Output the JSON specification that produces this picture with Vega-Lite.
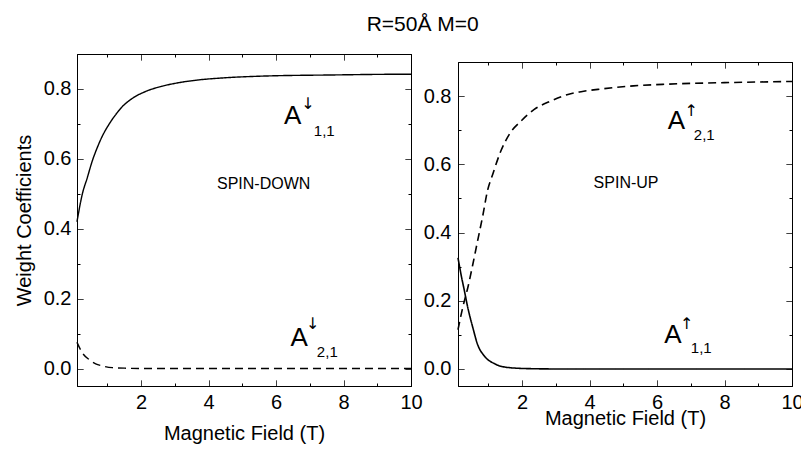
{
  "$schema": "https://vega.github.io/schema/vega-lite/v6.json",
  "padding": {"left": 13, "top": 13, "right": 0, "bottom": 0},
  "title": {"text": "R=50Å M=0", "fontSize": 21, "fontWeight": "normal", "font": "Liberation Sans", "anchor": "middle", "offset": 14, "dx": 14, "color": "black"},
  "datasets": {
    "curves": [
      {"panel": "L", "curve": "A11", "x": 0.1, "y": 0.42},
      {"panel": "L", "curve": "A11", "x": 0.257, "y": 0.499},
      {"panel": "L", "curve": "A11", "x": 0.405, "y": 0.546},
      {"panel": "L", "curve": "A11", "x": 0.553, "y": 0.594},
      {"panel": "L", "curve": "A11", "x": 0.7, "y": 0.632},
      {"panel": "L", "curve": "A11", "x": 0.85, "y": 0.665},
      {"panel": "L", "curve": "A11", "x": 1.05, "y": 0.699},
      {"panel": "L", "curve": "A11", "x": 1.25, "y": 0.727},
      {"panel": "L", "curve": "A11", "x": 1.44, "y": 0.749},
      {"panel": "L", "curve": "A11", "x": 1.74, "y": 0.773},
      {"panel": "L", "curve": "A11", "x": 2.14, "y": 0.793},
      {"panel": "L", "curve": "A11", "x": 2.63, "y": 0.808},
      {"panel": "L", "curve": "A11", "x": 3.12, "y": 0.818},
      {"panel": "L", "curve": "A11", "x": 3.72, "y": 0.826},
      {"panel": "L", "curve": "A11", "x": 4.5, "y": 0.832},
      {"panel": "L", "curve": "A11", "x": 5.69, "y": 0.837},
      {"panel": "L", "curve": "A11", "x": 7.66, "y": 0.84},
      {"panel": "L", "curve": "A11", "x": 9.64, "y": 0.842},
      {"panel": "L", "curve": "A11", "x": 10, "y": 0.842},
      {"panel": "L", "curve": "A21", "x": 0.1, "y": 0.075},
      {"panel": "L", "curve": "A21", "x": 0.257, "y": 0.045},
      {"panel": "L", "curve": "A21", "x": 0.456, "y": 0.026},
      {"panel": "L", "curve": "A21", "x": 0.654, "y": 0.0135},
      {"panel": "L", "curve": "A21", "x": 0.85, "y": 0.0075},
      {"panel": "L", "curve": "A21", "x": 1.15, "y": 0.0025},
      {"panel": "L", "curve": "A21", "x": 1.6, "y": 0.0008},
      {"panel": "L", "curve": "A21", "x": 2.2, "y": 0.0},
      {"panel": "L", "curve": "A21", "x": 10, "y": 0.0},
      {"panel": "R", "curve": "A11", "x": 0.1, "y": 0.326},
      {"panel": "R", "curve": "A11", "x": 0.19, "y": 0.277},
      {"panel": "R", "curve": "A11", "x": 0.29, "y": 0.229},
      {"panel": "R", "curve": "A11", "x": 0.39, "y": 0.18},
      {"panel": "R", "curve": "A11", "x": 0.54, "y": 0.121},
      {"panel": "R", "curve": "A11", "x": 0.68, "y": 0.072},
      {"panel": "R", "curve": "A11", "x": 0.88, "y": 0.038},
      {"panel": "R", "curve": "A11", "x": 1.18, "y": 0.0155},
      {"panel": "R", "curve": "A11", "x": 1.57, "y": 0.0044},
      {"panel": "R", "curve": "A11", "x": 2.17, "y": 0.001},
      {"panel": "R", "curve": "A11", "x": 3.0, "y": 0.0},
      {"panel": "R", "curve": "A11", "x": 10, "y": 0.0},
      {"panel": "R", "curve": "A21", "x": 0.1, "y": 0.115},
      {"panel": "R", "curve": "A21", "x": 0.24, "y": 0.18},
      {"panel": "R", "curve": "A21", "x": 0.39, "y": 0.238},
      {"panel": "R", "curve": "A21", "x": 0.54, "y": 0.307},
      {"panel": "R", "curve": "A21", "x": 0.68, "y": 0.375},
      {"panel": "R", "curve": "A21", "x": 0.83, "y": 0.447},
      {"panel": "R", "curve": "A21", "x": 0.98, "y": 0.525},
      {"panel": "R", "curve": "A21", "x": 1.13, "y": 0.571},
      {"panel": "R", "curve": "A21", "x": 1.37, "y": 0.639},
      {"panel": "R", "curve": "A21", "x": 1.62, "y": 0.688},
      {"panel": "R", "curve": "A21", "x": 1.97, "y": 0.727},
      {"panel": "R", "curve": "A21", "x": 2.36, "y": 0.761},
      {"panel": "R", "curve": "A21", "x": 2.86, "y": 0.786},
      {"panel": "R", "curve": "A21", "x": 3.36, "y": 0.805},
      {"panel": "R", "curve": "A21", "x": 3.75, "y": 0.813},
      {"panel": "R", "curve": "A21", "x": 4.35, "y": 0.821},
      {"panel": "R", "curve": "A21", "x": 5.3, "y": 0.83},
      {"panel": "R", "curve": "A21", "x": 6.3, "y": 0.835},
      {"panel": "R", "curve": "A21", "x": 8.29, "y": 0.84},
      {"panel": "R", "curve": "A21", "x": 10, "y": 0.843}
    ],
    "labels": [
      {"panel": "L", "kind": "A", "x": 6.235, "y": 0.699, "text": "A"},
      {"panel": "L", "kind": "sup", "x": 6.75, "y": 0.742, "text": "↓"},
      {"panel": "L", "kind": "sub", "x": 7.12, "y": 0.665, "text": "1,1"},
      {"panel": "L", "kind": "spin", "x": 4.25, "y": 0.514, "text": "SPIN-DOWN"},
      {"panel": "L", "kind": "A", "x": 6.43, "y": 0.0645, "text": "A"},
      {"panel": "L", "kind": "sup", "x": 6.89, "y": 0.113, "text": "↓"},
      {"panel": "L", "kind": "sub", "x": 7.21, "y": 0.033, "text": "2,1"},
      {"panel": "R", "kind": "A", "x": 6.315, "y": 0.703, "text": "A"},
      {"panel": "R", "kind": "sup", "x": 6.81, "y": 0.742, "text": "↑"},
      {"panel": "R", "kind": "sub", "x": 7.09, "y": 0.671, "text": "2,1"},
      {"panel": "R", "kind": "spin", "x": 4.12, "y": 0.53, "text": "SPIN-UP"},
      {"panel": "R", "kind": "A", "x": 6.21, "y": 0.077, "text": "A"},
      {"panel": "R", "kind": "sup", "x": 6.68, "y": 0.116, "text": "↑"},
      {"panel": "R", "kind": "sub", "x": 7.0, "y": 0.048, "text": "1,1"}
    ]
  },
  "spacing": -1,
  "hconcat": [
    {
      "width": 334,
      "height": 332,
      "layer": [
        {
          "data": {"name": "curves"},
          "transform": [{"filter": "datum.panel === 'L'"}],
          "mark": {"type": "line", "interpolate": "monotone", "strokeWidth": 1.4, "color": "black"},
          "encoding": {
            "x": {"field": "x", "type": "quantitative", "scale": {"domain": [0.1, 10], "zero": false, "nice": false},
              "axis": {"orient": "bottom", "values": [1,2,3,4,5,6,7,8,9,10], "format": "d", "labelExpr": "datum.value % 2 === 0 ? datum.label : ''", "tickDash": {"condition": {"test": "datum.value % 2 !== 0", "value": [3, 20]}, "value": [1, 0]}, "labelPadding": 12, "title": "Magnetic Field (T)", "titlePadding": 11}},
            "y": {"field": "y", "type": "quantitative", "scale": {"domain": [-0.05, 0.9], "zero": false, "nice": false},
              "axis": {"orient": "left", "values": [0,0.1,0.2,0.3,0.4,0.5,0.6,0.7,0.8], "format": ".1f", "labelExpr": "round(datum.value*10) % 2 === 0 ? datum.label : ''", "tickDash": {"condition": {"test": "round(datum.value*10) % 2 !== 0", "value": [3, 20]}, "value": [1, 0]}, "labelPadding": 12, "title": "Weight Coefficients", "titlePadding": 9}},
            "strokeDash": {"field": "curve", "type": "nominal", "scale": {"domain": ["A11", "A21"], "range": [[1, 0], [8, 5]]}, "legend": null}
          }
        },
        {
          "data": {"name": "labels"},
          "transform": [{"filter": "datum.panel === 'L' && datum.kind === 'A'"}],
          "mark": {"type": "text", "align": "left", "baseline": "alphabetic", "fontSize": 26, "color": "black"},
          "encoding": {
            "x": {"field": "x", "type": "quantitative", "scale": {"domain": [0.1, 10], "zero": false, "nice": false},
              "axis": {"orient": "top", "values": [1,2,3,4,5,6,7,8,9,10], "labels": false, "title": null, "tickDash": {"condition": {"test": "datum.value % 2 !== 0", "value": [3, 20]}, "value": [1, 0]}}},
            "y": {"field": "y", "type": "quantitative", "scale": {"domain": [-0.05, 0.9], "zero": false, "nice": false},
              "axis": {"orient": "right", "values": [0,0.1,0.2,0.3,0.4,0.5,0.6,0.7,0.8], "labels": false, "title": null, "tickDash": {"condition": {"test": "round(datum.value*10) % 2 !== 0", "value": [3, 20]}, "value": [1, 0]}}},
            "text": {"field": "text"}
          }
        },
        {
          "data": {"name": "labels"},
          "transform": [{"filter": "datum.panel === 'L' && datum.kind === 'sup'"}],
          "mark": {"type": "text", "align": "left", "baseline": "alphabetic", "fontSize": 16, "font": "DejaVu Sans", "color": "black"},
          "encoding": {
            "x": {"field": "x", "type": "quantitative", "axis": null},
            "y": {"field": "y", "type": "quantitative", "axis": null},
            "text": {"field": "text"}
          }
        },
        {
          "data": {"name": "labels"},
          "transform": [{"filter": "datum.panel === 'L' && datum.kind === 'sub'"}],
          "mark": {"type": "text", "align": "left", "baseline": "alphabetic", "fontSize": 15, "color": "black"},
          "encoding": {
            "x": {"field": "x", "type": "quantitative", "axis": null},
            "y": {"field": "y", "type": "quantitative", "axis": null},
            "text": {"field": "text"}
          }
        },
        {
          "data": {"name": "labels"},
          "transform": [{"filter": "datum.panel === 'L' && datum.kind === 'spin'"}],
          "mark": {"type": "text", "align": "left", "baseline": "alphabetic", "fontSize": 16, "color": "black"},
          "encoding": {
            "x": {"field": "x", "type": "quantitative", "axis": null},
            "y": {"field": "y", "type": "quantitative", "axis": null},
            "text": {"field": "text"}
          }
        }
      ],
      "resolve": {"axis": {"x": "independent", "y": "independent"}}
    },
    {
      "spacing": 1,
      "vconcat": [
        {
          "width": 334,
          "height": 1,
          "view": {"stroke": null},
          "data": {"values": [{"t": ""}]},
          "mark": {"type": "text"},
          "encoding": {"text": {"field": "t"}}
        },
        {
          "width": 334,
          "height": 324,
          "layer": [
            {
              "data": {"name": "curves"},
              "transform": [{"filter": "datum.panel === 'R'"}],
              "mark": {"type": "line", "interpolate": "monotone", "strokeWidth": 1.6, "color": "black"},
              "encoding": {
                "x": {"field": "x", "type": "quantitative", "scale": {"domain": [0.1, 10], "zero": false, "nice": false},
                  "axis": {"orient": "bottom", "values": [1,2,3,4,5,6,7,8,9,10], "format": "d", "labelExpr": "datum.value % 2 === 0 ? datum.label : ''", "tickDash": {"condition": {"test": "datum.value % 2 !== 0", "value": [3, 20]}, "value": [1, 0]}, "labelPadding": 12, "title": "Magnetic Field (T)", "titlePadding": -4}},
                "y": {"field": "y", "type": "quantitative", "scale": {"domain": [-0.05, 0.9], "zero": false, "nice": false},
                  "axis": {"orient": "left", "values": [0,0.1,0.2,0.3,0.4,0.5,0.6,0.7,0.8], "format": ".1f", "labelExpr": "round(datum.value*10) % 2 === 0 ? datum.label : ''", "tickDash": {"condition": {"test": "round(datum.value*10) % 2 !== 0", "value": [3, 20]}, "value": [1, 0]}, "labelPadding": 13, "title": null}},
                "strokeDash": {"field": "curve", "type": "nominal", "scale": {"domain": ["A11", "A21"], "range": [[1, 0], [9, 5]]}, "legend": null}
              }
            },
            {
              "data": {"name": "labels"},
              "transform": [{"filter": "datum.panel === 'R' && datum.kind === 'A'"}],
              "mark": {"type": "text", "align": "left", "baseline": "alphabetic", "fontSize": 26, "color": "black"},
              "encoding": {
                "x": {"field": "x", "type": "quantitative", "scale": {"domain": [0.1, 10], "zero": false, "nice": false},
                  "axis": {"orient": "top", "values": [1,2,3,4,5,6,7,8,9,10], "labels": false, "title": null, "tickDash": {"condition": {"test": "datum.value % 2 !== 0", "value": [3, 20]}, "value": [1, 0]}}},
                "y": {"field": "y", "type": "quantitative", "scale": {"domain": [-0.05, 0.9], "zero": false, "nice": false},
                  "axis": {"orient": "right", "values": [0,0.1,0.2,0.3,0.4,0.5,0.6,0.7,0.8], "labels": false, "title": null, "tickDash": {"condition": {"test": "round(datum.value*10) % 2 !== 0", "value": [3, 20]}, "value": [1, 0]}}},
                "text": {"field": "text"}
              }
            },
            {
              "data": {"name": "labels"},
              "transform": [{"filter": "datum.panel === 'R' && datum.kind === 'sup'"}],
              "mark": {"type": "text", "align": "left", "baseline": "alphabetic", "fontSize": 16, "font": "DejaVu Sans", "color": "black"},
              "encoding": {
                "x": {"field": "x", "type": "quantitative", "axis": null},
                "y": {"field": "y", "type": "quantitative", "axis": null},
                "text": {"field": "text"}
              }
            },
            {
              "data": {"name": "labels"},
              "transform": [{"filter": "datum.panel === 'R' && datum.kind === 'sub'"}],
              "mark": {"type": "text", "align": "left", "baseline": "alphabetic", "fontSize": 15, "color": "black"},
              "encoding": {
                "x": {"field": "x", "type": "quantitative", "axis": null},
                "y": {"field": "y", "type": "quantitative", "axis": null},
                "text": {"field": "text"}
              }
            },
            {
              "data": {"name": "labels"},
              "transform": [{"filter": "datum.panel === 'R' && datum.kind === 'spin'"}],
              "mark": {"type": "text", "align": "left", "baseline": "alphabetic", "fontSize": 16, "color": "black"},
              "encoding": {
                "x": {"field": "x", "type": "quantitative", "axis": null},
                "y": {"field": "y", "type": "quantitative", "axis": null},
                "text": {"field": "text"}
              }
            }
          ],
          "resolve": {"axis": {"x": "independent", "y": "independent"}}
        }
      ]
    }
  ],
  "config": {
    "font": "Liberation Sans",
    "background": "white",
    "view": {"stroke": "black", "strokeWidth": 1},
    "axis": {
      "grid": false,
      "domainColor": "black",
      "tickColor": "black",
      "tickWidth": 1,
      "tickSize": -6,
      "labelColor": "black",
      "titleColor": "black",
      "labelFontSize": 20,
      "titleFontSize": 20,
      "titleFontWeight": "normal",
      "labelFlush": false,
      "labelOverlap": false,
      "labelFont": "Liberation Sans",
      "titleFont": "Liberation Sans"
    }
  }
}
